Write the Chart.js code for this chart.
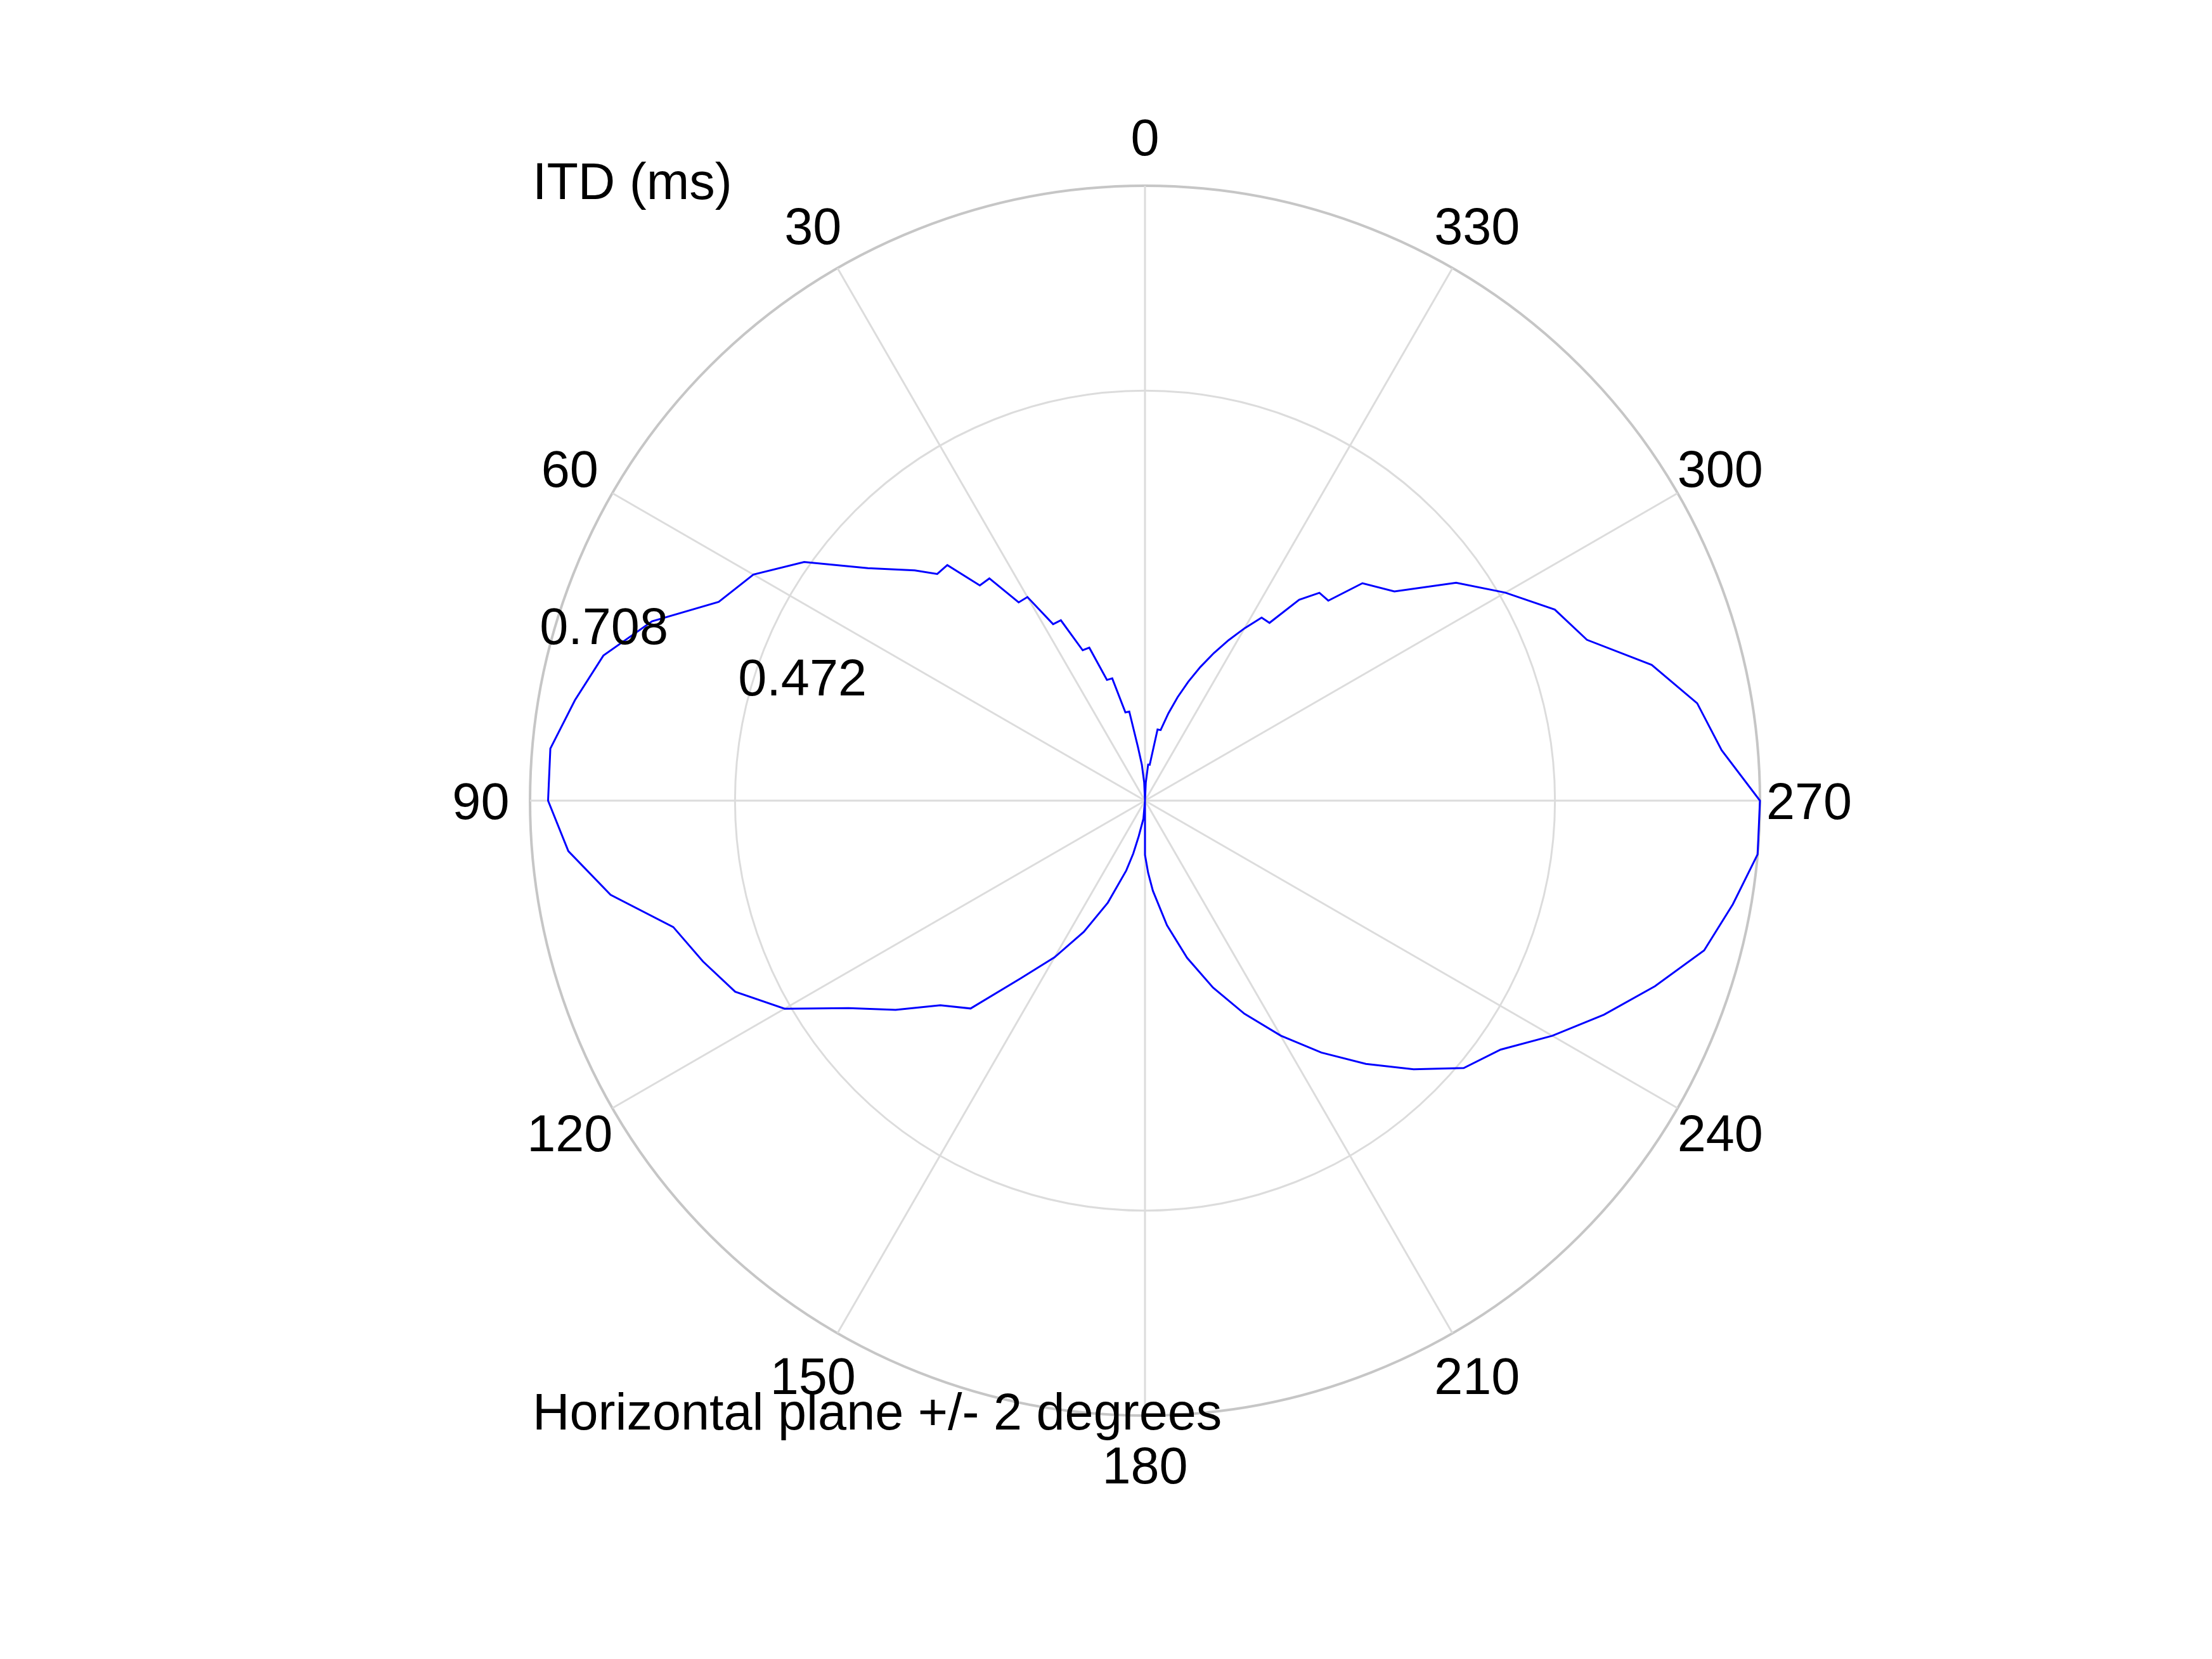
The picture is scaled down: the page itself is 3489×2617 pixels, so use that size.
<!DOCTYPE html>
<html>
<head>
<meta charset="utf-8">
<script src="https://cdn.jsdelivr.net/npm/chart.js@4.4.1/dist/chart.umd.min.js"></script>
<style>
  html, body { margin: 0; padding: 0; background: #fff; }
  #wrap { width: 3489px; height: 2617px; }
</style>
</head>
<body>
<div id="wrap"><canvas id="itd"></canvas></div>
<script>
// azimuth in degrees, counter-clockwise from the front (0 at top, 90 on the left)
const azimuthDeg = [
  0, 2.5, 5, 7.5, 10, 12.5, 15, 17.5, 20, 22.5, 25, 27.5, 30, 32.5, 35, 37.5, 40, 42.5,
  45, 50, 55, 60, 65, 70, 75, 80, 85, 90, 95, 100, 105, 110, 115, 120, 125, 130, 135,
  140, 145, 150, 155, 160, 165, 167.5, 170, 175, 177.5,
  180, 182.5, 185, 190, 195, 200, 205, 210, 215, 220, 225, 230, 235, 240, 245, 250,
  255, 260, 265, 270, 275, 280, 285, 290, 295, 300, 305, 310, 315, 317.5, 320, 322.5,
  325, 327.5, 330, 332.5, 335, 337.5, 340, 342.5, 345, 347.5, 350, 352.5, 355, 357.5
];
// interaural time difference, ms
const itdMs = [
  0, 0.0208, 0.0417, 0.0625, 0.1042, 0.1042, 0.1458, 0.1458, 0.1875, 0.1875, 0.2292, 0.2292,
  0.2708, 0.2708, 0.3125, 0.3125, 0.3542, 0.3542,
  0.375, 0.4167, 0.4792, 0.5208, 0.5417, 0.6042, 0.6458, 0.6667, 0.6875, 0.6875, 0.6667,
  0.625, 0.5625, 0.5417, 0.5208, 0.4792, 0.4167, 0.375, 0.3333,
  0.3125, 0.25, 0.2083, 0.1667, 0.125, 0.0833, 0.0625, 0.0417, 0.0208, 0,
  0.0625, 0.0833, 0.1042, 0.1458, 0.1875, 0.2292, 0.2708, 0.3125, 0.3542, 0.3958, 0.4375,
  0.4792, 0.5, 0.5417, 0.5833, 0.625,
  0.6667, 0.6875, 0.7083, 0.7083, 0.6667, 0.6458, 0.6042, 0.5417, 0.5208, 0.4792, 0.4375,
  0.375, 0.3542, 0.3125, 0.3125, 0.2917,
  0.25, 0.25, 0.2292, 0.2083, 0.1875, 0.1667, 0.1458, 0.125, 0.1042, 0.0833, 0.0833,
  0.0417, 0.0417, 0.0208
];

const angleTicks = [0, 30, 60, 90, 120, 150, 180, 210, 240, 270, 300, 330];
const ringTicks = [0.4722, 0.7083];
const ringTickLabels = ['0.472', '0.708'];
const rMax = 0.7083;

const titleText = 'ITD (ms)';
const xLabelText = 'Horizontal plane +/- 2 degrees';

// radar categories on a half-degree grid, running clockwise from the top
const STEP = 0.5;
const nSlots = 360 / STEP;
const slotOf = az => Math.round(((360 - az) % 360) / STEP) % nSlots;

const labels = [];
for (let i = 0; i < nSlots; i++) labels.push(String((360 - i * STEP) % 360));

const series = new Array(nSlots).fill(null);
azimuthDeg.forEach((az, i) => { series[slotOf(az)] = itdMs[i]; });

const spokeSlots = angleTicks.map(slotOf);

const FONT_SIZE = 81;
const FONT = FONT_SIZE + 'px "Liberation Sans", Arial, sans-serif';

const polarText = {
  id: 'polarText',
  afterDatasetsDraw(chart) {
    const r = chart.scales.r;
    const ctx = chart.ctx;
    const R = r.drawingArea;
    const capHalf = FONT_SIZE * 0.36;
    ctx.save();
    ctx.fillStyle = '#000';
    ctx.font = FONT;
    ctx.textBaseline = 'alphabetic';

    ctx.textAlign = 'center';
    angleTicks.forEach(a => {
      const p = r.getPointPosition(slotOf(a), R * 1.08);
      ctx.fillText(String(a), p.x, p.y + capHalf);
    });

    ctx.textAlign = 'left';
    const tickSlot = slotOf(75.5);
    ringTicks.forEach((v, i) => {
      const p = r.getPointPositionForValue(tickSlot, v + rMax / 60);
      ctx.fillText(ringTickLabels[i], p.x, p.y);
    });

    const left = r.xCenter - R * 0.996;
    ctx.fillText(titleText, left, r.yCenter - R * 0.978);
    ctx.fillText(xLabelText, left, r.yCenter + R * 1.023);
    ctx.restore();
  }
};

new Chart(document.getElementById('itd'), {
  type: 'radar',
  data: {
    labels: labels,
    datasets: [{
      label: 'ITD',
      data: series,
      borderColor: '#0000ff',
      borderWidth: 3,
      backgroundColor: 'transparent',
      fill: false,
      pointRadius: 0,
      pointHoverRadius: 0,
      tension: 0,
      spanGaps: true
    }]
  },
  options: {
    animation: false,
    responsive: true,
    maintainAspectRatio: false,
    devicePixelRatio: 1,
    layout: { padding: { left: 836, right: 713, top: 293, bottom: 384 } },
    plugins: {
      legend: { display: false },
      title: { display: false },
      tooltip: { enabled: false }
    },
    scales: {
      r: {
        min: 0,
        max: rMax,
        startAngle: 0,
        afterBuildTicks: scale => {
          scale.ticks = [0, ...ringTicks].map(v => ({ value: v }));
        },
        ticks: { display: false },
        pointLabels: { display: false },
        grid: {
          circular: true,
          color: ctx => ctx.index === ringTicks.length ? '#c6c6c6' : '#dcdcdc',
          lineWidth: ctx => ctx.index === ringTicks.length ? 4 : 3
        },
        angleLines: {
          display: true,
          color: '#dcdcdc',
          lineWidth: ctx => spokeSlots.includes(ctx.index) ? 3 : 0
        }
      }
    }
  },
  plugins: [polarText]
});
</script>
</body>
</html>
